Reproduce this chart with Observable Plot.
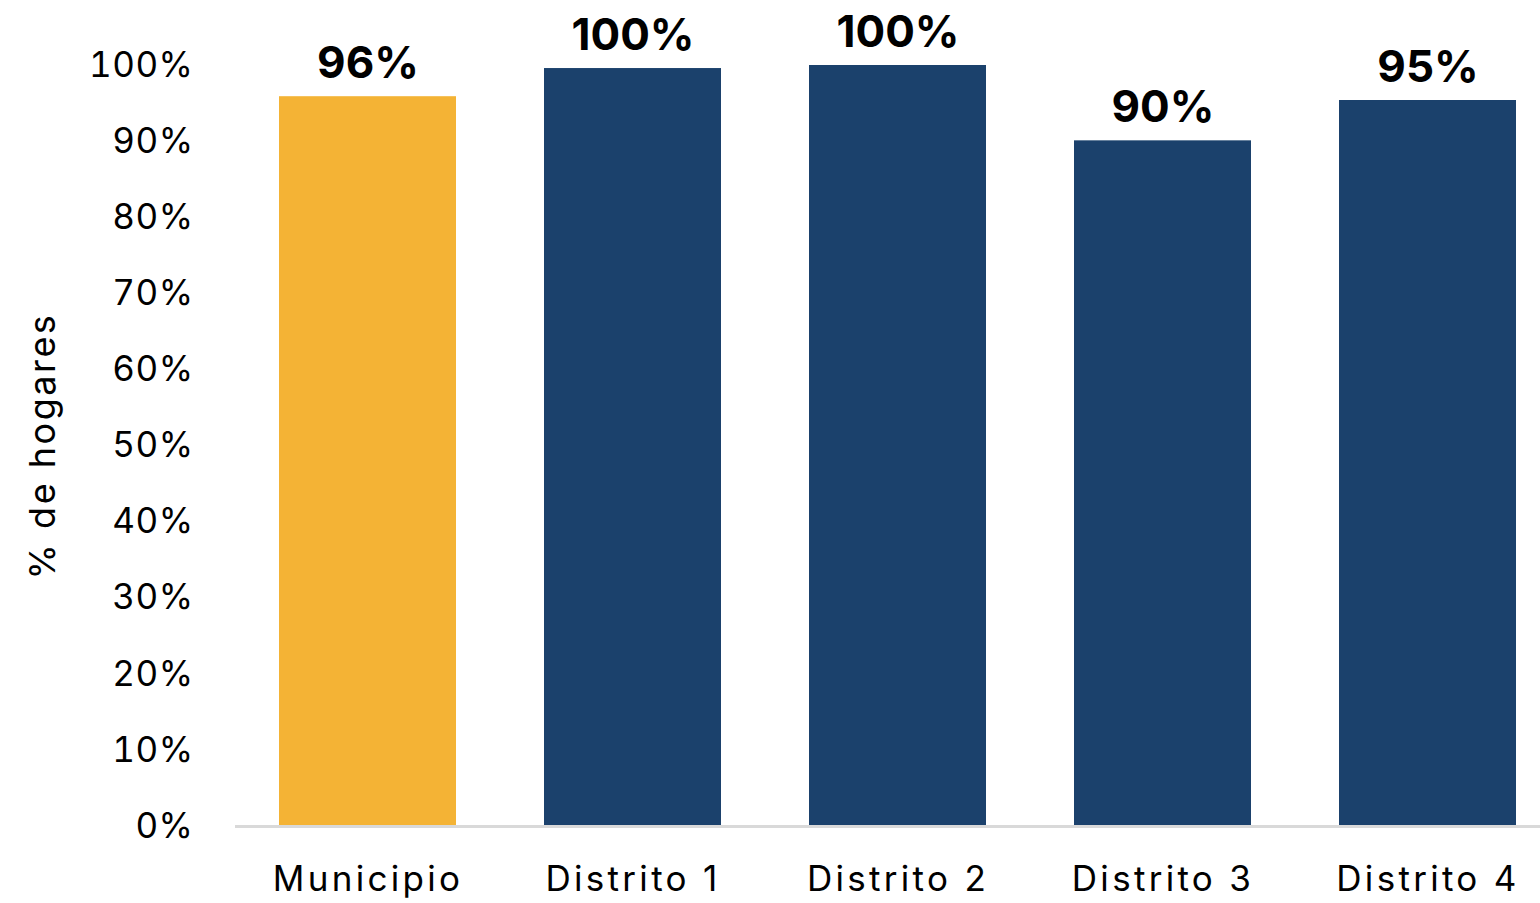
<!DOCTYPE html>
<html>
<head>
<meta charset="utf-8">
<script src="https://cdn.jsdelivr.net/npm/d3@7"></script>
<script src="https://cdn.jsdelivr.net/npm/@observablehq/plot@0.6"></script>
<style>
  html, body { margin: 0; padding: 0; background: #fff; }
  #chart svg { display: block; }
  #chart g[aria-label="x-axis tick label"] text { letter-spacing: 3.3px; }
  #chart g[aria-label="y-axis label"] text { letter-spacing: 2.5px; font-size: 36px; }
  #chart g[aria-label="y-axis tick label"] text { letter-spacing: 0.5px; }
</style>
</head>
<body>
<div id="chart"></div>
<script>
const categories = ["Municipio", "Distrito 1", "Distrito 2", "Distrito 3", "Distrito 4"];
const values = [95.9, 99.6, 100, 90.1, 95.4];
const labels = ["96%", "100%", "100%", "90%", "95%"];
const colors = ["#F4B335", "#1B416C", "#1B416C", "#1B416C", "#1B416C"];
const yTicks = [0, 10, 20, 30, 40, 50, 60, 70, 80, 90, 100];

const data = categories.map((c, i) => ({cat: c, value: values[i], label: labels[i], color: colors[i]}));

const font = "Inter, 'Noto Sans', sans-serif";

const chart = Plot.plot({
  width: 1540,
  height: 903,
  marginLeft: 235,
  marginRight: 0,
  marginTop: 65,
  marginBottom: 77,
  style: {fontFamily: font, color: "#000", background: "#fff"},
  x: {domain: categories, paddingInner: 0.332, paddingOuter: 0.128, align: 0.647, label: null},
  y: {domain: [0, 100], label: null},
  marks: [
    Plot.barY(data, {x: "cat", y: "value", fill: "color"}),
    Plot.ruleY([0], {stroke: "#d9d9d9", strokeWidth: 3}),
    Plot.text(data, {x: "cat", y: "value", text: "label", lineAnchor: "bottom", dy: -19, fontSize: 44, fontWeight: "bold", fill: "#000"}),
    Plot.axisY({ticks: yTicks, tickFormat: d => d + "%", tickSize: 0, tickPadding: 42, fontSize: 35, label: "% de hogares", labelAnchor: "center", labelOffset: 206, labelArrow: "none"}),
    Plot.axisX({tickSize: 0, tickPadding: 40, fontSize: 35, label: null})
  ]
});
document.getElementById("chart").appendChild(chart);
</script>
</body>
</html>
